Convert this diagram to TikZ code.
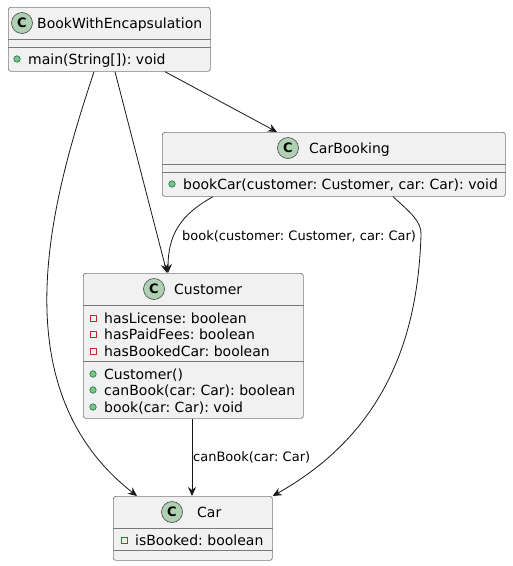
\documentclass[tikz,border=0pt]{standalone}
\usepackage{fontspec}
\setmainfont{DejaVu Sans}
\frenchspacing
\usetikzlibrary{arrows.meta, calc}
\definecolor{cBox}{HTML}{F1F1F1}
\definecolor{cLine}{HTML}{181818}
\definecolor{cBorder}{HTML}{7A7A7A}
\definecolor{cIcon}{HTML}{ADD1B2}
\definecolor{cPriv}{HTML}{C82930}
\definecolor{cPubFill}{HTML}{84BE84}
\definecolor{cPubLine}{HTML}{038048}
\tikzset{
  classbox/.style={
    draw=cBorder, fill=cBox, rounded corners=2.5pt,
    line width=0.7pt, anchor=north west, inner sep=0pt,
  },
  classicon/.style={
    circle, draw=cLine!80, fill=cIcon, line width=0.6pt,
    minimum size=21pt, inner sep=0pt,
    font=\fontsize{13}{13}\selectfont\bfseries,
  },
  classname/.style={
    anchor=west, inner sep=0pt, text height=10pt, text depth=0pt,
    font=\fontsize{14}{16}\selectfont,
  },
  member/.style={classname},
  privmark/.style={rectangle, draw=cPriv, line width=0.7pt, minimum size=6pt, inner sep=0pt},
  pubmark/.style={circle, draw=cPubLine, fill=cPubFill, line width=0.6pt, minimum size=6.5pt, inner sep=0pt},
  sepline/.style={draw=cBorder, line width=0.7pt},
  arw/.style={-{Stealth[length=9pt, width=8pt, inset=3pt]}, line width=0.8pt, draw=cLine},
  arwlabel/.style={
    anchor=west, inner sep=0pt, text height=9.4pt, text depth=0pt,
    font=\fontsize{13}{15}\selectfont,
  },
}
\begin{document}
\begin{tikzpicture}[x=1pt, y=-1pt]
  \useasboundingbox (0,0) rectangle (513,566);

  % Class boxes
  \node[classbox, minimum width=202pt, minimum height=64pt] (bwe) at (8,7) {};
  \node[classbox, minimum width=343pt, minimum height=64pt] (cb) at (162,132) {};
  \node[classbox, minimum width=220pt, minimum height=145pt] (cust) at (83,273) {};
  \node[classbox, minimum width=159pt, minimum height=64pt] (car) at (113,496) {};

  % Compartment lines
  \draw[sepline] (bwe.west |- 0,39) -- (bwe.east |- 0,39);
  \draw[sepline] (bwe.west |- 0,47) -- (bwe.east |- 0,47);
  \draw[sepline] (cb.west |- 0,164) -- (cb.east |- 0,164);
  \draw[sepline] (cb.west |- 0,172) -- (cb.east |- 0,172);
  \draw[sepline] (cust.west |- 0,305) -- (cust.east |- 0,305);
  \draw[sepline] (cust.west |- 0,361) -- (cust.east |- 0,361);
  \draw[sepline] (car.west |- 0,528) -- (car.east |- 0,528);
  \draw[sepline] (car.west |- 0,550) -- (car.east |- 0,550);

  % Headers
  \node[classicon] (bweC) at (22,23) {C};
  \node[classname] (bweName) at (37,23) {BookWithEncapsulation};
  \node[classicon] (cbC) at (288,148) {C};
  \node[classname] (cbName) at (309,148) {CarBooking};
  \node[classicon] (custC) at (154,289) {C};
  \node[classname] (custName) at (174,289) {Customer};
  \node[classicon] (carC) at (172,512) {C};
  \node[classname] (carName) at (197,512) {Car};

  % Members
  \node[pubmark] (bweM1) at (17,59) {};
  \node[member] (bweMain) at (28,59) {main(String[]): void};
  \node[pubmark] (cbM1) at (172,184) {};
  \node[member] (cbBook) at (183,184) {bookCar(customer: Customer, car: Car): void};
  \node[privmark] (custA1) at (93,318) {};
  \node[member] (custLic) at (104,318) {hasLicense: boolean};
  \node[privmark] (custA2) at (93,334) {};
  \node[member] (custFees) at (104,334) {hasPaidFees: boolean};
  \node[privmark] (custA3) at (93,351) {};
  \node[member] (custBooked) at (104,351) {hasBookedCar: boolean};
  \node[pubmark] (custM1) at (93,374) {};
  \node[member] (custCtor) at (104,374) {Customer()};
  \node[pubmark] (custM2) at (93,390) {};
  \node[member] (custCan) at (104,390) {canBook(car: Car): boolean};
  \node[pubmark] (custM3) at (93,407) {};
  \node[member] (custBook) at (104,407) {book(car: Car): void};
  \node[privmark] (carA1) at (124,540) {};
  \node[member] (carBooked) at (135,540) {isBooked: boolean};

  % Dependencies
  \draw[arw] ([xshift=157pt]bwe.south west) -- ([xshift=115pt]cb.north west);
  \draw[arw] ([xshift=107pt]bwe.south west) -- ([xshift=84pt]cust.north west);
  \draw[arw] ([xshift=86pt]bwe.south west)
    .. controls (55,190) and (-5,385) .. ([xshift=24pt]car.north west);
  \draw[arw] ([xshift=51pt]cb.south west)
    .. controls (180,215) and (168,235) .. ([xshift=85pt]cust.north west);
  \draw[arw] ([xshift=231pt]cb.south west)
    .. controls (410,212) and (422,222) .. (421,235)
    .. controls (418,330) and (390,430) .. (car.north east);
  \draw[arw] ([xshift=109pt]cust.south west) -- ([xshift=79pt]car.north west);

  % Labels
  \node[arwlabel] (lblBook) at (182,236) {book(customer: Customer, car: Car)};
  \node[arwlabel] (lblCan) at (193,457) {canBook(car: Car)};

\end{tikzpicture}
\end{document}
